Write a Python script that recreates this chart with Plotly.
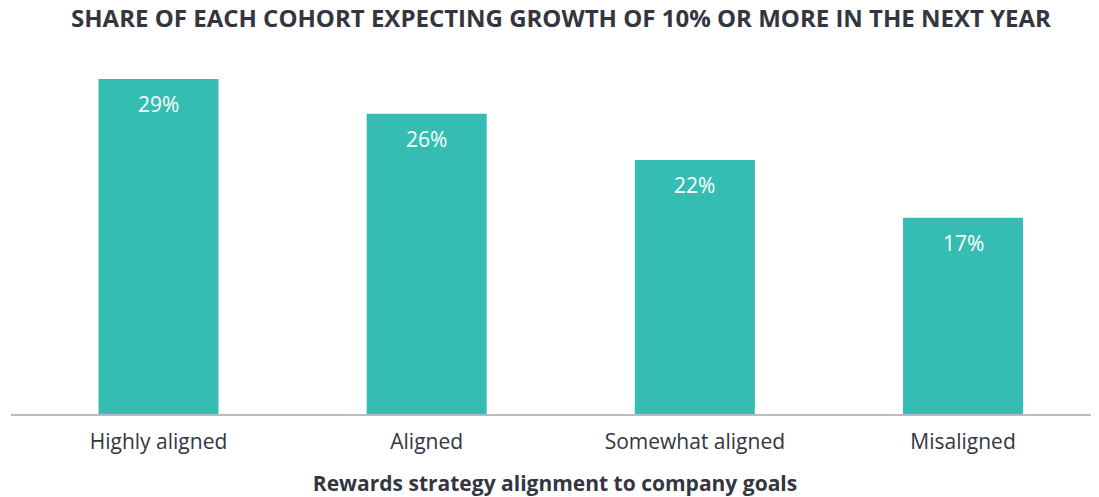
import plotly.graph_objects as go

categories = ["Highly aligned", "Aligned", "Somewhat aligned", "Misaligned"]
values = [29, 26, 22, 17]
labels = ["29%", "26%", "22%", "17%"]

BAR = "#36bdb3"
TEXT = "#33363f"
FONT = "Open Sans"

W, H = 1091, 489  # page body has an 8px offset

fig = go.Figure()
fig.add_trace(go.Bar(
    x=categories, y=values, marker=dict(color=BAR, line=dict(width=0)),
    width=0.4475, hoverinfo="skip",
))
for c, v, t in zip(categories, values, labels):
    fig.add_annotation(x=c, y=v, text=t, showarrow=False, yanchor="top", yshift=-9,
                       font=dict(family=FONT, size=21, color="white"))

fig.update_layout(
    width=W, height=H,
    margin=dict(l=3, r=0, t=52, b=83, autoexpand=False),
    paper_bgcolor="white", plot_bgcolor="white",
    showlegend=False,
    title=dict(text="<b>SHARE OF EACH COHORT EXPECTING GROWTH OF 10% OR MORE IN THE NEXT YEAR</b>",
               x=553/W, xanchor="center", xref="container", y=1-11/H, yanchor="middle",
               font=dict(family=FONT, size=24, color=TEXT)),
    xaxis=dict(range=[-0.55, 3.507], showline=True, linecolor="#b8bcbe", linewidth=2,
               ticks="", showgrid=False, zeroline=False, ticklabelstandoff=8,
               tickfont=dict(family=FONT, size=21, color=TEXT),
               title=dict(text="<b>Rewards strategy alignment to company goals</b>",
                          font=dict(family=FONT, size=21, color=TEXT), standoff=23)),
    yaxis=dict(range=[0, 30.65], visible=False, showgrid=False, zeroline=False),
)
fig.write_html("out.html")
